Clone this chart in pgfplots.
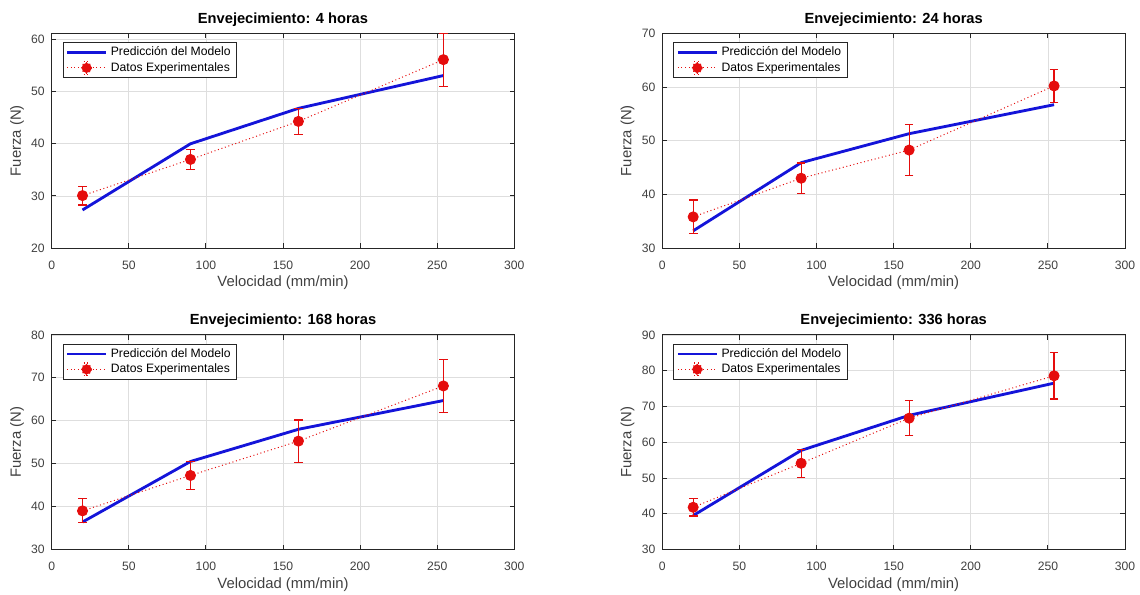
\documentclass[border=0pt]{standalone}
\usepackage{fontspec}
\setmainfont{Liberation Sans}
\usepackage{pgfplots}
\pgfplotsset{compat=1.18}

\definecolor{modelblue}{rgb}{0.08,0.08,0.85}
\definecolor{axisgray}{rgb}{0.15,0.15,0.15}
\definecolor{expred}{rgb}{0.9,0.05,0.05}

\pgfplotsset{
  panel/.style={
    width=277.6pt, height=128.8pt, scale only axis, anchor=south west,
    xmin=0, xmax=300, xtick={0,50,...,300},
    grid=major, major grid style={black!13, line width=0.4pt},
    axis line style={axisgray, line width=0.5pt},
    tick style={axisgray, line width=0.5pt}, major tick length=2.8pt,
    tick align=inside,
    ticklabel style={font=\fontsize{7.3}{8}\selectfont, text=black!75},
    xticklabel style={yshift=-4pt},
    yticklabel style={xshift=-0.7pt},
    /pgf/number format/assume math mode=true,
    xlabel={Velocidad (mm/min)}, ylabel={Fuerza (N)},
    label style={font=\fontsize{8.9}{10}\selectfont, text=black!75},
    xlabel style={at={(axis description cs:0.5,0)}, anchor=center, yshift=-21pt},
    ylabel style={at={(axis description cs:-0.075,0.5)}, anchor=center},
    every axis title shift=0pt,
    title style={font=\bfseries\fontsize{8.8}{10}\selectfont,
      at={(axis description cs:0.5,1)}, anchor=center, yshift=8.4pt},
    legend cell align=left,
    legend style={at={(rel axis cs:0.024,0.958)}, anchor=north west,
      draw=axisgray, line width=0.5pt, fill=white,
      font=\fontsize{7.3}{8.5}\selectfont, inner xsep=1.5pt, inner ysep=1.2pt,
      row sep=0pt, nodes={inner ysep=1.2pt}},
  },
  model/.style={modelblue, line width=1.7pt, no markers,
    legend image code/.code={\draw[modelblue, line width=1.7pt] (0pt,0pt) -- (23.4pt,0pt);}},
  exper/.style={expred, line width=0.6pt, dash pattern=on 0.6pt off 1.6pt,
    mark=*, mark size=3pt, mark options={solid, fill=expred, draw=expred},
    legend image code/.code={
      \draw[expred, line width=0.6pt, dash pattern=on 0.6pt off 1.6pt] (0pt,0pt) -- (23.4pt,0pt);
      \draw[expred, line width=0.7pt] (11.7pt,-3.8pt) -- (11.7pt,3.8pt)
        (9.9pt,-3.8pt) -- (13.5pt,-3.8pt) (9.9pt,3.8pt) -- (13.5pt,3.8pt);
      \fill[expred] (11.7pt,0pt) circle (3pt);},
    error bars/.cd, y dir=both, y explicit,
    error bar style={draw=expred, line width=0.7pt, solid},
    error mark options={draw=expred, line width=0.7pt, mark size=2.6pt, solid, rotate=90},
  },
}

\begin{document}
\begin{tikzpicture}
\path[use as bounding box] (0pt,0pt) rectangle (684pt,-356.4pt);

% 4 horas
\begin{axis}[panel, at={(31.0pt,-148.8pt)}, ymin=20, ymax=61.2, ytick={20,30,...,60},
  title={Envejecimiento: 4 horas}]
\addplot[model] coordinates {(20,27.3) (90,40.0) (160,46.8) (254,53.1)};
\addlegendentry{Predicción del Modelo}
\addplot[exper] coordinates {
  (20,30.06) +- (0,1.81)
  (90,37.0) +- (0,1.94)
  (160,44.3) +- (0,2.48)
  (254,56.15) +- (0,5.1)};
\addlegendentry{Datos Experimentales}
\end{axis}

% 24 horas
\begin{axis}[panel, at={(397.4pt,-148.8pt)}, ymin=30, ymax=70, ytick={30,40,...,70},
  title={Envejecimiento: 24 horas}]
\addplot[model] coordinates {(20,33.2) (90,45.9) (160,51.3) (254,56.7)};
\addlegendentry{Predicción del Modelo}
\addplot[exper] coordinates {
  (20,35.8) +- (0,3.15)
  (90,43.0) +- (0,2.85)
  (160,48.25) +- (0,4.7)
  (254,60.2) +- (0,3.1)};
\addlegendentry{Datos Experimentales}
\end{axis}

% 168 horas
\begin{axis}[panel, at={(31.0pt,-329.7pt)}, ymin=30, ymax=80, ytick={30,40,...,80},
  title={Envejecimiento: 168 horas}]
\addplot[model] coordinates {(20,36.4) (90,50.5) (160,58.0) (254,64.7)};
\addlegendentry{Predicción del Modelo}
\addplot[exper] coordinates {
  (20,39.0) +- (0,2.8)
  (90,47.25) +- (0,3.2)
  (160,55.25) +- (0,4.9)
  (254,68.1) +- (0,6.15)};
\addlegendentry{Datos Experimentales}
\end{axis}

% 336 horas
\begin{axis}[panel, at={(397.4pt,-329.7pt)}, ymin=30, ymax=90, ytick={30,40,...,90},
  title={Envejecimiento: 336 horas}]
\addplot[model] coordinates {(20,39.5) (90,57.7) (160,67.5) (254,76.5)};
\addlegendentry{Predicción del Modelo}
\addplot[exper] coordinates {
  (20,41.8) +- (0,2.45)
  (90,54.1) +- (0,3.95)
  (160,66.7) +- (0,4.85)
  (254,78.55) +- (0,6.5)};
\addlegendentry{Datos Experimentales}
\end{axis}
\end{tikzpicture}
\end{document}
